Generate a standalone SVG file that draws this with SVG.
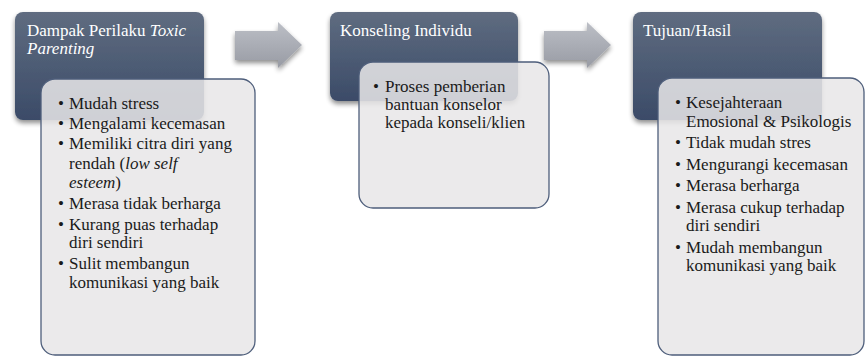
<svg xmlns="http://www.w3.org/2000/svg" width="866" height="356" viewBox="0 0 866 356">
<defs>
<linearGradient id="gDark" x1="0" y1="0" x2="0" y2="1">
<stop offset="0" stop-color="#5f6c80"/>
<stop offset="1" stop-color="#3b4b68"/>
</linearGradient>
<linearGradient id="gArrow" x1="0" y1="0" x2="0" y2="1">
<stop offset="0" stop-color="#bcbfc6"/>
<stop offset="1" stop-color="#989ba4"/>
</linearGradient>
<filter id="shadow" x="-10%" y="-10%" width="120%" height="130%">
<feGaussianBlur in="SourceAlpha" stdDeviation="2.5"/>
<feOffset dx="0" dy="3" result="b"/>
<feComponentTransfer><feFuncA type="linear" slope="0.45"/></feComponentTransfer>
<feMerge><feMergeNode/><feMergeNode in="SourceGraphic"/></feMerge>
</filter>
</defs>
<style>
.dark{fill:url(#gDark);filter:url(#shadow)}
.light{fill:#e8e6e8;fill-opacity:0.86;stroke:#4e5e7b;stroke-width:1.3}
.arrow{fill:url(#gArrow);filter:url(#shadow)}
.title{font-family:"Liberation Serif","Times New Roman",serif;font-size:17px;fill:#ffffff}
.body{font-family:"Liberation Serif","Times New Roman",serif;font-size:17px;fill:#1a1a1a}
.it{font-style:italic}
</style>
<rect width="866" height="356" fill="#ffffff"/>

<g id="connectors">
<path class="arrow" d="M235,31 H278 V22 L302,45 L278,68 V60 H235 Z"/>
<path class="arrow" d="M544,31 H587 V22 L611,45 L587,68 V60 H544 Z"/>
</g>

<g id="node-dampak">
<rect class="dark" x="15" y="12" width="189" height="108" rx="8"/>
<text class="title" x="27" y="36">Dampak Perilaku <tspan class="it">Toxic</tspan></text>
<text class="title it" x="27" y="54">Parenting</text>
</g>
<g id="node-dampak-list">
<rect class="light" x="41" y="79" width="214" height="276" rx="14"/>
<g class="body">
<text x="58" y="109">•</text><text x="69" y="109">Mudah stress</text>
<text x="58" y="129">•</text><text x="69" y="129">Mengalami kecemasan</text>
<text x="58" y="149">•</text><text x="69" y="149">Memiliki citra diri yang</text>
<text x="69" y="168.5">rendah (<tspan class="it">low self</tspan></text>
<text x="69" y="188"><tspan class="it">esteem</tspan>)</text>
<text x="58" y="209">•</text><text x="69" y="209">Merasa tidak berharga</text>
<text x="58" y="230">•</text><text x="69" y="230">Kurang puas terhadap</text>
<text x="69" y="248">diri sendiri</text>
<text x="58" y="269">•</text><text x="69" y="269">Sulit membangun</text>
<text x="69" y="288">komunikasi yang baik</text>
</g>
</g>

<g id="node-konseling">
<rect class="dark" x="330" y="12" width="188" height="89" rx="8"/>
<text class="title" x="340" y="36">Konseling Individu</text>
</g>
<g id="node-konseling-list">
<rect class="light" x="359" y="62" width="190" height="146" rx="14"/>
<g class="body">
<text x="373" y="92">•</text><text x="385" y="92">Proses pemberian</text>
<text x="385" y="110">bantuan konselor</text>
<text x="385" y="128">kepada konseli/klien</text>
</g>
</g>

<g id="node-tujuan">
<rect class="dark" x="633" y="12" width="189" height="108" rx="8"/>
<text class="title" x="643" y="36">Tujuan/Hasil</text>
</g>
<g id="node-tujuan-list">
<rect class="light" x="658" y="78" width="206" height="277" rx="14"/>
<g class="body">
<text x="675" y="108">•</text><text x="686" y="108">Kesejahteraan</text>
<text x="686" y="126.5">Emosional &amp; Psikologis</text>
<text x="675" y="148">•</text><text x="686" y="148">Tidak mudah stres</text>
<text x="675" y="169.5">•</text><text x="686" y="169.5">Mengurangi kecemasan</text>
<text x="675" y="191">•</text><text x="686" y="191">Merasa berharga</text>
<text x="675" y="212.5">•</text><text x="686" y="212.5">Merasa cukup terhadap</text>
<text x="686" y="231">diri sendiri</text>
<text x="675" y="252.5">•</text><text x="686" y="252.5">Mudah membangun</text>
<text x="686" y="271">komunikasi yang baik</text>
</g>
</g>
</svg>
